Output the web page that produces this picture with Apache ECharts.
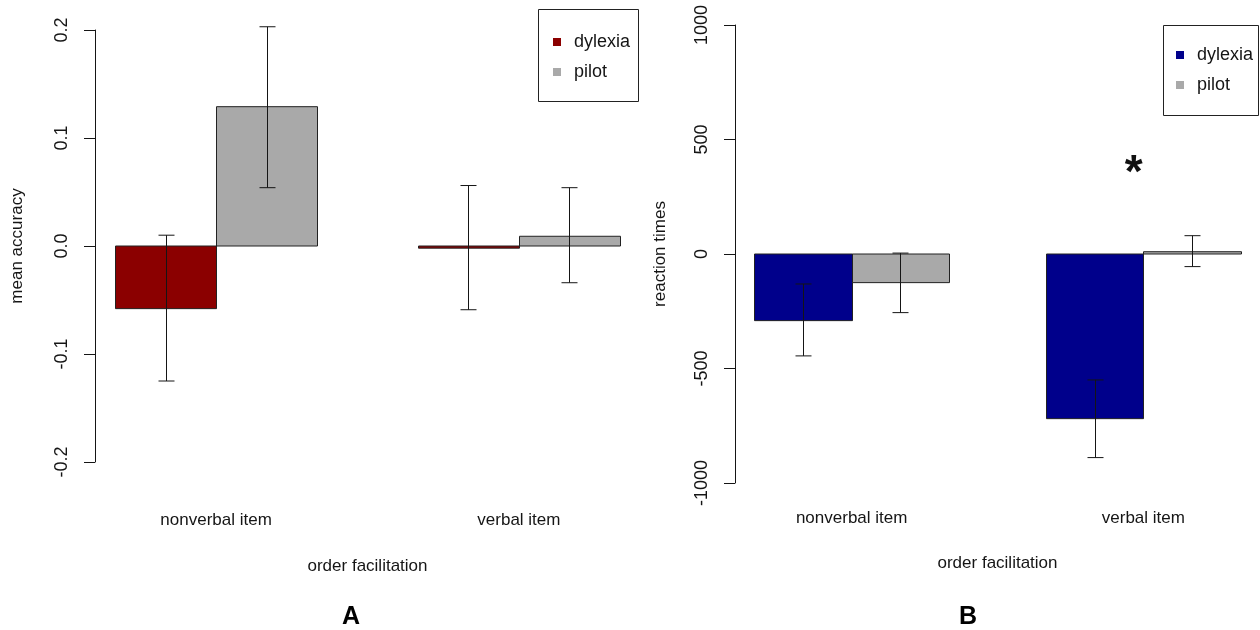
<!DOCTYPE html>
<html>
<head>
<meta charset="utf-8">
<script src="https://cdn.jsdelivr.net/npm/echarts@6/dist/echarts.min.js"></script>
<style>
  html, body { margin: 0; padding: 0; background: #fff; }
  #chart { width: 1260px; height: 630px; }
</style>
</head>
<body>
<div id="chart"></div>
<script>
// categories
const groups = ['nonverbal item', 'verbal item'];
const seriesNames = ['dylexia', 'pilot'];

// panel A: mean accuracy (bar value, lower / upper end of error bar)
const accDylexia = [-0.058, -0.002];
const accDylexiaLo = [-0.125, -0.059];
const accDylexiaHi = [0.010, 0.056];
const accPilot = [0.129, 0.009];
const accPilotLo = [0.054, -0.034];
const accPilotHi = [0.203, 0.054];

// panel B: reaction times
const rtDylexia = [-291, -719];
const rtDylexiaLo = [-445, -889];
const rtDylexiaHi = [-131, -550];
const rtPilot = [-125, 10];
const rtPilotLo = [-256, -55];
const rtPilotHi = [4, 80];

// significance mark in panel B: [x in bar units, y]
const starB = [[4.9, 390]];

const FONT = '"Liberation Sans", Arial, sans-serif';
const INK = '#151515';

// R barplot layout: each bar is 1 unit wide, groups start at 1 and 4
function barData(vals, lo, hi, k) {
  return vals.map((v, i) => [1.5 + 3 * i + k, v, lo[i], hi[i]]);
}

function renderBar(params, api) {
  const x = api.value(0);
  const p0 = api.coord([x - 0.5, 0]);
  const p1 = api.coord([x + 0.5, api.value(1)]);
  return {
    type: 'rect',
    shape: {
      x: Math.round(p0[0]) + 0.5,
      y: Math.min(p0[1], p1[1]),
      width: Math.round(p1[0]) - Math.round(p0[0]),
      height: Math.max(Math.abs(p1[1] - p0[1]), 1)
    },
    style: { fill: api.visual('color'), stroke: '#222', lineWidth: 1 }
  };
}

function renderErr(params, api) {
  const x = api.value(0);
  const lo = api.coord([x, api.value(2)]);
  const hi = api.coord([x, api.value(3)]);
  const cx = Math.round(lo[0]) + 0.5;
  const cap = 8;
  const st = { stroke: INK, lineWidth: 1 };
  return {
    type: 'group',
    children: [
      { type: 'line', shape: { x1: cx, y1: lo[1], x2: cx, y2: hi[1] }, style: st },
      { type: 'line', shape: { x1: cx - cap, y1: lo[1], x2: cx + cap, y2: lo[1] }, style: st },
      { type: 'line', shape: { x1: cx - cap, y1: hi[1], x2: cx + cap, y2: hi[1] }, style: st }
    ]
  };
}

function xAxisFor(gi, margin, nameGap) {
  return {
    type: 'value', gridIndex: gi, min: 0.8, max: 6.2,
    axisLine: { show: false }, axisTick: { show: false }, splitLine: { show: false },
    axisLabel: {
      customValues: [2, 5], margin: margin,
      fontFamily: FONT, fontSize: 17, color: INK,
      formatter: v => groups[Math.round((v - 2) / 3)] || ''
    },
    name: 'order facilitation', nameLocation: 'middle', nameGap: nameGap,
    nameTextStyle: { fontFamily: FONT, fontSize: 17, color: INK }
  };
}

function yAxisFor(gi, min, max, step, name, nameGap, fmt) {
  return {
    type: 'value', gridIndex: gi, min: min, max: max, interval: step,
    axisLine: { show: true, lineStyle: { color: INK, width: 1 } },
    axisTick: { show: true, length: 11, lineStyle: { color: INK } },
    splitLine: { show: false },
    axisLabel: { rotate: 90, margin: 24, fontFamily: FONT, fontSize: 18, color: INK, formatter: fmt },
    name: name, nameLocation: 'middle', nameGap: nameGap,
    nameTextStyle: { fontFamily: FONT, fontSize: 17, color: INK }
  };
}

function legendFor(left, top, colors) {
  return {
    orient: 'vertical', left: left, top: top, padding: 0,
    itemWidth: 8, itemHeight: 8, itemGap: 12, icon: 'rect',
    selectedMode: false,
    textStyle: { fontFamily: FONT, fontSize: 18, color: INK, lineHeight: 18, padding: [0, 0, 0, 8] },
    data: seriesNames.map((n, i) => ({ name: n, itemStyle: { color: colors[i], borderWidth: 0 } }))
  };
}

const chart = echarts.init(document.getElementById('chart'));

const option = {
  animation: false,
  backgroundColor: '#fff',
  title: [
    { text: 'A', left: 346, top: 600, textAlign: 'center',
      textStyle: { fontFamily: FONT, fontSize: 25, fontWeight: 'bold', color: '#000' } },
    { text: 'B', left: 963, top: 600, textAlign: 'center',
      textStyle: { fontFamily: FONT, fontSize: 25, fontWeight: 'bold', color: '#000' } }
  ],
  grid: [
    { left: 95, top: 30, width: 545, height: 432 },
    { left: 735, top: 25, width: 525, height: 458 }
  ],
  xAxis: [xAxisFor(0, 50, 96), xAxisFor(1, 27, 72)],
  yAxis: [
    yAxisFor(0, -0.2, 0.2, 0.1, 'mean accuracy', 69, v => v.toFixed(1)),
    yAxisFor(1, -1000, 1000, 500, 'reaction times', 66, v => String(v))
  ],
  legend: [
    legendFor(553, 33, ['#8B0000', '#A9A9A9']),
    legendFor(1176, 46, ['#00008B', '#A9A9A9'])
  ],
  graphic: [
    { type: 'rect', shape: { x: 538.5, y: 9.5, width: 100, height: 92 },
      style: { fill: 'none', stroke: '#222', lineWidth: 1 }, silent: true },
    { type: 'rect', shape: { x: 1163.5, y: 25.5, width: 95, height: 90 },
      style: { fill: 'none', stroke: '#222', lineWidth: 1 }, silent: true }
  ],
  series: [
    { name: 'dylexia', type: 'custom', xAxisIndex: 0, yAxisIndex: 0, itemStyle: { color: '#8B0000' },
      renderItem: renderBar, data: barData(accDylexia, accDylexiaLo, accDylexiaHi, 0) },
    { name: 'pilot', type: 'custom', xAxisIndex: 0, yAxisIndex: 0, itemStyle: { color: '#A9A9A9' },
      renderItem: renderBar, data: barData(accPilot, accPilotLo, accPilotHi, 1) },
    { name: 'errA', type: 'custom', xAxisIndex: 0, yAxisIndex: 0, z: 5, renderItem: renderErr,
      data: barData(accDylexia, accDylexiaLo, accDylexiaHi, 0).concat(barData(accPilot, accPilotLo, accPilotHi, 1)) },

    { name: 'dylexia', type: 'custom', xAxisIndex: 1, yAxisIndex: 1, itemStyle: { color: '#00008B' },
      renderItem: renderBar, data: barData(rtDylexia, rtDylexiaLo, rtDylexiaHi, 0) },
    { name: 'pilot', type: 'custom', xAxisIndex: 1, yAxisIndex: 1, itemStyle: { color: '#A9A9A9' },
      renderItem: renderBar, data: barData(rtPilot, rtPilotLo, rtPilotHi, 1) },
    { name: 'errB', type: 'custom', xAxisIndex: 1, yAxisIndex: 1, z: 5, renderItem: renderErr,
      data: barData(rtDylexia, rtDylexiaLo, rtDylexiaHi, 0).concat(barData(rtPilot, rtPilotLo, rtPilotHi, 1)) },

    { name: 'star', type: 'custom', xAxisIndex: 1, yAxisIndex: 1, z: 6, data: starB,
      renderItem: (params, api) => {
        const p = api.coord([api.value(0), api.value(1)]);
        return {
          type: 'text', x: p[0], y: p[1] + 10,
          style: { text: '*', fontFamily: FONT, fontSize: 46, fontWeight: 'bold', fill: '#111',
                   align: 'center', verticalAlign: 'middle' }
        };
      } }
  ]
};

chart.setOption(option);
</script>
</body>
</html>
